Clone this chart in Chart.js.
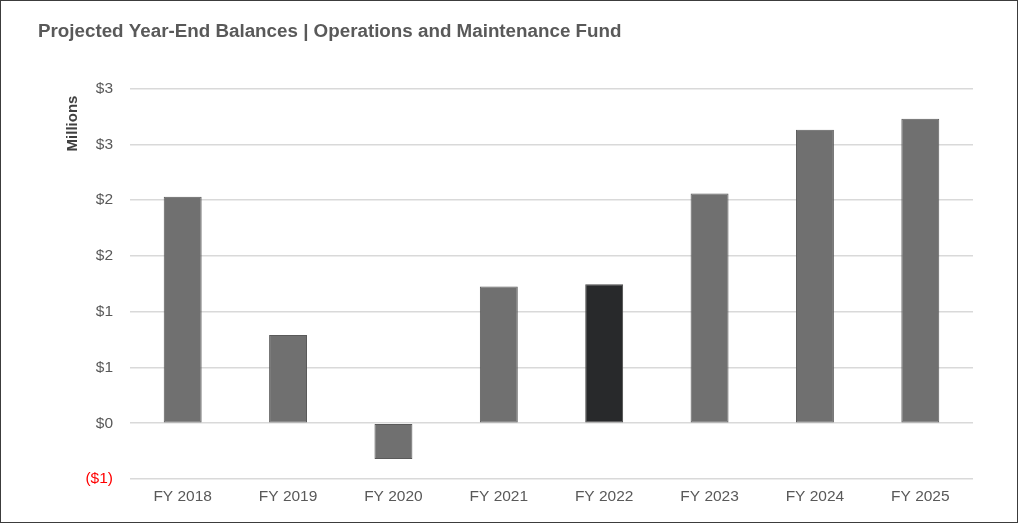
<!DOCTYPE html>
<html>
<head>
<meta charset="utf-8">
<script src="https://cdn.jsdelivr.net/npm/chart.js@4"></script>
<style>
    html, body { margin: 0; padding: 0; background: #fff; }
    .frame {
        position: absolute; left: 0; top: 0;
        width: 1018px; height: 523px;
        box-sizing: border-box;
        border: 1px solid #3c3c3c;
    }
    .frame canvas { display: block; }
</style>
</head>
<body>
<div class="frame"><canvas id="fundChart" width="1016" height="521"></canvas></div>
<script>
// Year-end balances in millions of dollars
const fiscalYears = ['FY 2018', 'FY 2019', 'FY 2020', 'FY 2021', 'FY 2022', 'FY 2023', 'FY 2024', 'FY 2025'];
const balances = [2.03, 0.79, -0.32, 1.225, 1.245, 2.06, 2.63, 2.73];
const yMin = -0.5;
const yMax = 3;
const yStep = 0.5;

const textGray = '#595959';
const font = 'Liberation Sans, Arial, sans-serif';

// FY 2022 is the highlighted (current) year
const barFill = fiscalYears.map(y => y === 'FY 2022' ? '#28292b' : '#707070');
const barEdge = fiscalYears.map(y => y === 'FY 2022' ? '#4a4a4a' : '#5a5a5a');

function moneyLabel(value) {
    const n = Math.round(Math.abs(value) + 1e-9);
    return value < 0 ? '($' + n + ')' : '$' + n;
}

// "Millions" unit label, set near the top of the value axis
const unitLabel = {
    id: 'unitLabel',
    afterDraw: function(chart) {
        const c = chart.ctx;
        const area = chart.chartArea;
        c.save();
        c.translate(72, area.top + 7);
        c.rotate(-Math.PI / 2);
        c.textAlign = 'right';
        c.textBaseline = 'middle';
        c.fillStyle = '#404040';
        c.font = 'bold 15px ' + font;
        c.fillText('Millions', 0, 0);
        c.restore();
    }
};

const ctx = document.getElementById('fundChart').getContext('2d');
new Chart(ctx, {
    type: 'bar',
    data: {
        labels: fiscalYears,
        datasets: [{
            data: balances,
            backgroundColor: barFill,
            borderColor: barEdge,
            borderWidth: 1,
            borderSkipped: false,
            barPercentage: 0.36,
            categoryPercentage: 1
        }]
    },
    options: {
        responsive: false,
        animation: false,
        layout: { padding: { left: 37, right: 44, top: 0, bottom: 0 } },
        plugins: {
            legend: { display: false },
            tooltip: { enabled: false },
            title: {
                display: true,
                text: 'Projected Year-End Balances | Operations and Maintenance Fund',
                align: 'start',
                color: textGray,
                font: { family: font, size: 18.8, weight: 'bold' },
                padding: { top: 20, bottom: 45 }
            }
        },
        scales: {
            y: {
                min: yMin,
                max: yMax,
                afterFit: function(scale) { scale.width = 92; },
                ticks: {
                    stepSize: yStep,
                    padding: 17,
                    color: function(c) { return c.tick.value < 0 ? '#ff0000' : textGray; },
                    font: { family: font, size: 15.5 },
                    callback: function(value) { return moneyLabel(value); }
                },
                grid: { color: '#d9d9d9', lineWidth: 1.5, drawTicks: false },
                border: { display: false }
            },
            x: {
                afterFit: function(scale) { scale.height = 43; },
                ticks: {
                    padding: 0,
                    color: textGray,
                    font: { family: font, size: 15.5 }
                },
                grid: { display: false },
                border: { display: false }
            }
        }
    },
    plugins: [unitLabel]
});
</script>
</body>
</html>
